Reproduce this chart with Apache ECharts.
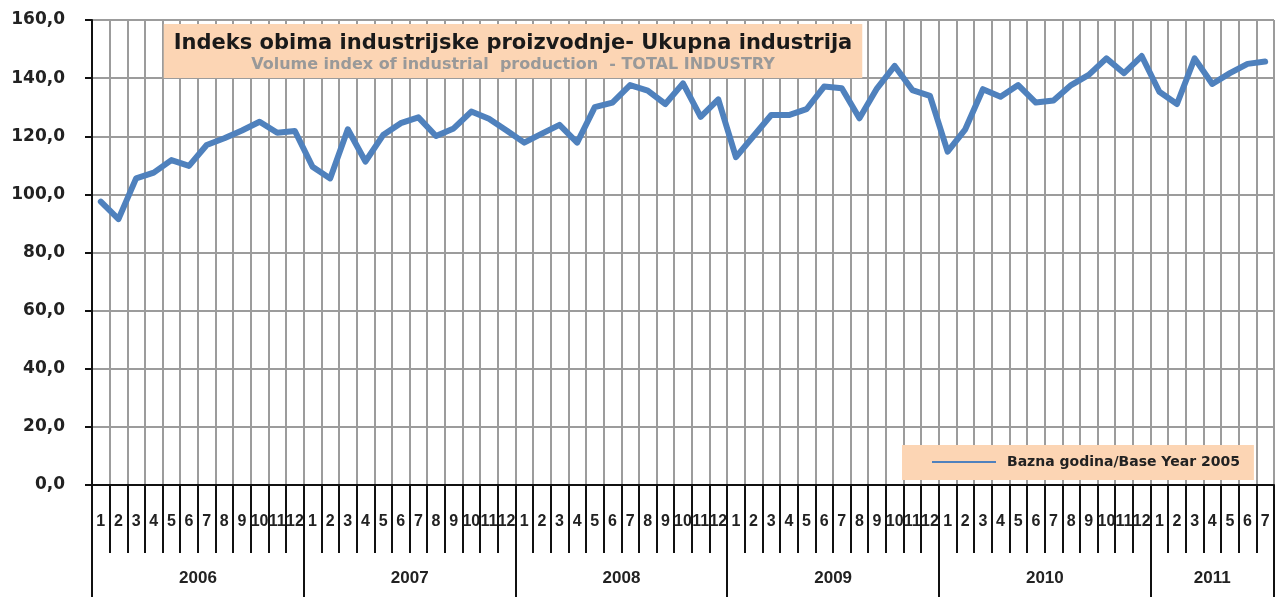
<!DOCTYPE html>
<html>
<head>
<meta charset="utf-8">
<script src="https://cdn.jsdelivr.net/npm/echarts@6/dist/echarts.min.js"></script>
<style>
  html, body { margin: 0; padding: 0; background: #fff; }
  #chart { width: 1275px; height: 597px; }
</style>
</head>
<body>
<div id="chart"></div>
<script>
// values, one array per year
const years = ['2006', '2007', '2008', '2009', '2010', '2011'];
const v2006 = [97.5, 91.5, 105.5, 107.5, 111.8, 109.8, 117.0, 119.3, 122.0, 125.0, 121.2, 121.8];
const v2007 = [109.5, 105.5, 122.4, 111.3, 120.4, 124.5, 126.5, 120.1, 122.7, 128.5, 126.0, 122.0];
const v2008 = [117.8, 120.9, 123.9, 117.8, 130.0, 131.6, 137.6, 135.7, 131.1, 138.2, 126.7, 132.7];
const v2009 = [112.8, 120.1, 127.3, 127.3, 129.3, 137.1, 136.5, 126.2, 136.5, 144.2, 135.9, 133.9];
const v2010 = [114.7, 122.4, 136.2, 133.6, 137.6, 131.6, 132.3, 137.6, 141.1, 146.8, 141.7, 147.6];
const v2011 = [135.3, 131.1, 146.8, 138.0, 141.7, 144.9, 145.7];
const yTicks = [0, 20, 40, 60, 80, 100, 120, 140, 160];
const seriesName = 'Bazna godina/Base Year 2005';

const perYear = [v2006, v2007, v2008, v2009, v2010, v2011];
var months = [], yearCol = [], values = [];
var yearStart = {}, yearLabelAt = {};
perYear.forEach(function (arr, y) {
  var start = months.length;
  yearStart[start] = true;
  // label sits in the middle of the year block
  var mid = start + Math.floor((arr.length - 1) / 2);
  yearLabelAt[mid] = { year: years[y], even: arr.length % 2 === 0 };
  arr.forEach(function (v, m) {
    months.push(String(m + 1));
    yearCol.push(years[y]);
    values.push(v);
  });
});

var chart = echarts.init(document.getElementById('chart'));
var gridColor = '#9c9c9c';
var txt = '#222';

chart.setOption({
  backgroundColor: '#fff',
  animation: false,
  title: {
    text: 'Indeks obima industrijske proizvodnje- Ukupna industrija',
    subtext: 'Volume index of industrial  production  - TOTAL INDUSTRY',
    left: 503,
    top: 24,
    padding: [9, 10, 5, 10],
    itemGap: 3,
    backgroundColor: '#FCD5B4',
    textAlign: 'center',
    textStyle: { fontFamily: 'DejaVu Sans', fontWeight: 'bold', fontSize: 21, color: '#1a1a1a' },
    subtextStyle: { fontFamily: 'DejaVu Sans', fontWeight: 'bold', fontSize: 16, color: '#999' }
  },
  legend: {
    left: 902,
    top: 445,
    padding: [10, 14, 11, 30],
    backgroundColor: '#FCD5B4',
    icon: 'rect',
    itemWidth: 64,
    itemHeight: 2,
    textStyle: { fontFamily: 'DejaVu Sans', fontWeight: 'bold', fontSize: 14, color: txt, padding: [0, 0, 0, 6] },
    data: [seriesName]
  },
  grid: { left: 92, right: 1, top: 20, bottom: 112, containLabel: false },
  xAxis: [
    {
      type: 'category',
      position: 'bottom',
      data: months,
      boundaryGap: true,
      axisLine: { show: true, lineStyle: { color: '#111', width: 2 } },
      axisTick: { show: true, interval: 0, length: 68, lineStyle: { color: '#111', width: 2 } },
      axisLabel: { show: true, interval: 0, margin: 29, fontFamily: 'Liberation Sans', fontWeight: 'bold', fontSize: 16, color: txt },
      splitLine: { show: true, interval: 0, lineStyle: { color: gridColor, width: 2 } }
    },
    {
      type: 'category',
      position: 'bottom',
      data: yearCol,
      boundaryGap: true,
      axisLine: { show: false },
      axisTick: {
        show: true,
        interval: function (i) { return !!yearStart[i]; },
        length: 112,
        lineStyle: { color: '#111', width: 2 }
      },
      axisLabel: {
        show: true,
        interval: function (i) { return !!yearLabelAt[i]; },
        margin: 85,
        formatter: function (v, i) {
          var l = yearLabelAt[i];
          if (!l) return '';
          return l.even ? '{e|' + l.year + '}' : '{o|' + l.year + '}';
        },
        rich: {
          e: { fontFamily: 'Liberation Sans', fontWeight: 'bold', fontSize: 17, color: txt, padding: [0, 0, 0, 18] },
          o: { fontFamily: 'Liberation Sans', fontWeight: 'bold', fontSize: 17, color: txt }
        }
      },
      splitLine: { show: false }
    }
  ],
  yAxis: {
    type: 'value',
    min: yTicks[0],
    max: yTicks[yTicks.length - 1],
    interval: 20,
    axisLine: { show: true, lineStyle: { color: '#111', width: 2 } },
    axisTick: { show: true, length: 7, lineStyle: { color: '#111', width: 2 } },
    axisLabel: {
      margin: 27,
      fontFamily: 'DejaVu Sans',
      fontWeight: 'bold',
      fontSize: 17,
      color: txt,
      formatter: function (v) { return v.toFixed(1).replace('.', ','); }
    },
    splitLine: { show: true, lineStyle: { color: gridColor, width: 2 } }
  },
  series: [{
    name: seriesName,
    type: 'line',
    xAxisIndex: 0,
    data: values,
    showSymbol: false,
    symbol: 'none',
    color: '#4F81BD',
    lineStyle: { color: '#4F81BD', width: 6, join: 'round', cap: 'round' }
  }]
});
</script>
</body>
</html>
